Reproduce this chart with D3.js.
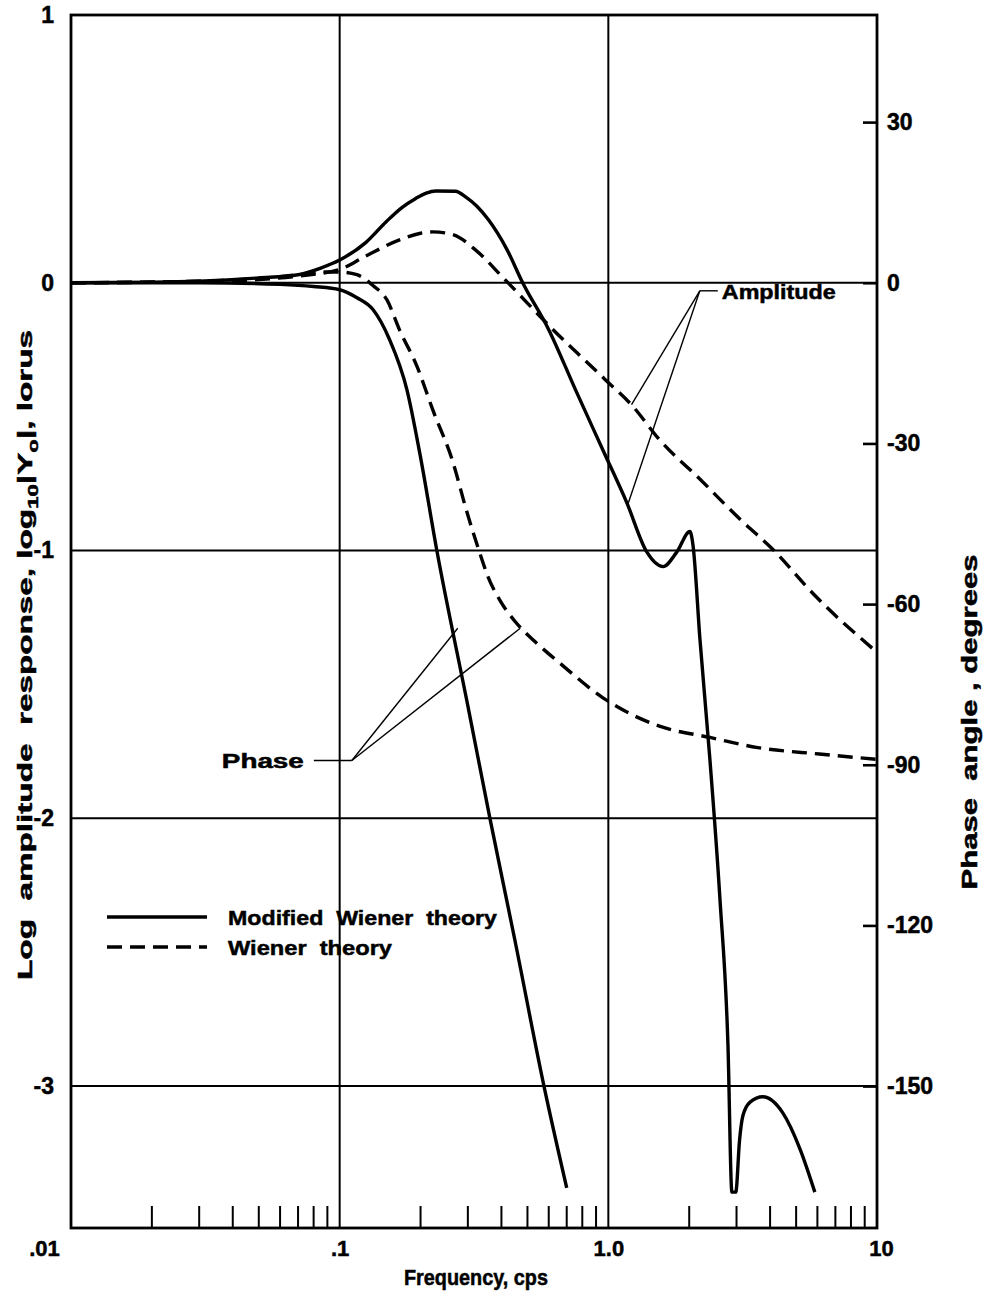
<!DOCTYPE html>
<html>
<head>
<meta charset="utf-8">
<title>Wiener theory frequency response</title>
<script src="https://cdn.jsdelivr.net/npm/d3@7/dist/d3.min.js"></script>
<style>
body { margin: 0; background: #fff; }
text { font-family: "Liberation Sans", "DejaVu Sans", sans-serif; font-weight: bold; fill: #000; stroke: #000; stroke-width: 0.5; }
.grid { stroke: #000; stroke-width: 2; }
.frame { fill: none; stroke: #000; stroke-width: 2.8; }
.curve { fill: none; stroke: #000; stroke-width: 3.4; }
.dash { stroke-dasharray: 15, 8; }
.leader { stroke: #000; stroke-width: 1.4; fill: none; }
</style>
</head>
<body>
<svg></svg>
<script>
// amplitude, modified Wiener theory (log10 |Y0|)
var ampModFreq = [0.01, 0.02, 0.03, 0.05, 0.07, 0.085, 0.1, 0.125, 0.149, 0.17, 0.192, 0.21, 0.228, 0.27, 0.295, 0.325, 0.358, 0.42, 0.48, 0.6, 0.755, 0.96, 1.17, 1.39, 1.6, 1.8, 2.012, 2.065, 2.193, 2.388, 2.603, 2.787, 2.884, 2.98, 3.08, 3.17, 3.37, 3.76, 4.46, 5.17, 5.87];
var ampMod     = [0, 0.002, 0.006, 0.018, 0.03, 0.055, 0.085, 0.15, 0.228, 0.28, 0.315, 0.335, 0.343, 0.342, 0.32, 0.285, 0.235, 0.123, 0, -0.175, -0.4, -0.63, -0.82, -1.005, -1.06, -1.005, -0.929, -0.978, -1.332, -1.78, -2.302, -2.843, -3.396, -3.396, -3.2, -3.11, -3.06, -3.04, -3.1, -3.235, -3.396];

// amplitude, Wiener theory
var ampWienFreq = [0.01, 0.02, 0.03, 0.05, 0.07, 0.1, 0.125, 0.167, 0.2, 0.222, 0.264, 0.32, 0.405, 0.43, 0.607, 0.97, 1.23, 1.55, 2.2, 3.1, 4.1, 5.9, 10];
var ampWien     = [0, 0.002, 0.005, 0.012, 0.025, 0.05, 0.1, 0.16, 0.185, 0.19, 0.18, 0.123, 0.02, -0.007, -0.164, -0.36, -0.46, -0.586, -0.735, -0.884, -0.996, -1.17, -1.38];

// phase, modified Wiener theory (degrees)
var phaseModFreq = [0.01, 0.03, 0.06, 0.08, 0.1, 0.116, 0.133, 0.153, 0.178, 0.199, 0.23, 0.3, 0.3625, 0.45, 0.576, 0.7];
var phaseMod     = [0, 0, -0.3, -0.7, -1.3, -2.8, -5, -10.5, -20, -32, -50, -79, -100, -123, -150, -169];

// phase, Wiener theory (degrees)
var phaseWienFreq = [0.01, 0.03, 0.05, 0.07, 0.085, 0.1, 0.116, 0.133, 0.15, 0.167, 0.194, 0.222, 0.264, 0.296, 0.33, 0.356, 0.395, 0.449, 0.533, 0.659, 0.955, 1.55, 2.39, 3.6, 6.1, 10];
var phaseWien     = [0, 0.3, 0.8, 1.5, 2, 2, 1.5, -0.5, -3.2, -8.8, -15.6, -23.7, -33.5, -42.4, -50, -54.8, -59.3, -63.2, -67, -71, -77.5, -82.8, -84.9, -86.8, -88, -89];

// axes
var xTicks = [0.01, 0.1, 1, 10];
var xTickLabels = [".01", ".1", "1.0", "10"];
var xMinor = [2, 3, 4, 5, 6, 7, 8, 9];
var ampTicks = [1, 0, -1, -2, -3];
var phaseTicks = [30, 0, -30, -60, -90, -120, -150];
var degPerUnit = 50;

var width = 983, height = 1296;
var margin = {left: 71, right: 106, top: 15, bottom: 68};

var svg = d3.select("svg").attr("width", width).attr("height", height);

var x = d3.scaleLog().domain([0.01, 10]).range([margin.left, width - margin.right]);
var y = d3.scaleLinear().domain([1, -3.53]).range([margin.top, height - margin.bottom]);
var yPhase = d3.scaleLinear().domain([1 * degPerUnit, -3.53 * degPerUnit]).range(y.range());

var x0 = x.range()[0], x1 = x.range()[1], y0 = y.range()[0], y1 = y.range()[1];

// grid lines
svg.selectAll(".hgrid").data([0, -1, -2, -3]).enter().append("line")
  .attr("class", "grid")
  .attr("x1", x0).attr("x2", x1)
  .attr("y1", function(d){ return y(d); }).attr("y2", function(d){ return y(d); });
svg.selectAll(".vgrid").data([0.1, 1]).enter().append("line")
  .attr("class", "grid")
  .attr("x1", function(d){ return x(d); }).attr("x2", function(d){ return x(d); })
  .attr("y1", y0).attr("y2", y1);

// minor ticks on the frequency axis
var minor = [];
[0.01, 0.1, 1].forEach(function(dec){ xMinor.forEach(function(m){ minor.push(dec * m); }); });
svg.selectAll(".minor").data(minor).enter().append("line")
  .attr("class", "grid")
  .attr("x1", function(d){ return x(d); }).attr("x2", function(d){ return x(d); })
  .attr("y1", y1).attr("y2", y1 - 22);

svg.append("rect").attr("class", "frame")
  .attr("x", x0).attr("y", y0).attr("width", x1 - x0).attr("height", y1 - y0);

function styleText(sel, size){
  sel.attr("font-size", size).attr("fill", "#000")
    .style("font-family", "Liberation Sans, sans-serif").style("font-weight", "bold");
}

// bottom axis labels
var xAxis = svg.append("g").attr("transform", "translate(0," + y1 + ")")
  .call(d3.axisBottom(x).tickValues(xTicks).tickSize(0).tickPadding(12)
    .tickFormat(function(d, i){ return xTickLabels[i]; }));
xAxis.select(".domain").remove();
styleText(xAxis.selectAll("text"), 22);
xAxis.selectAll("text").filter(function(d){ return d === 0.01; }).attr("dx", -27);
xAxis.selectAll("text").filter(function(d){ return d === 10; }).attr("dx", 4);

// left axis labels
var yAxis = svg.append("g").attr("transform", "translate(" + x0 + ",0)")
  .call(d3.axisLeft(y).tickValues(ampTicks).tickSize(0).tickPadding(17)
    .tickFormat(function(d){ return d < 0 ? "-" + Math.abs(d) : d; }));
yAxis.select(".domain").remove();
styleText(yAxis.selectAll("text"), 23);

// right axis
var rAxis = svg.append("g").attr("transform", "translate(" + x1 + ",0)")
  .call(d3.axisRight(yPhase).tickValues(phaseTicks).tickSize(-14).tickPadding(24)
    .tickFormat(function(d){ return d < 0 ? "-" + Math.abs(d) : d; }));
rAxis.select(".domain").remove();
rAxis.selectAll("line").attr("stroke", "#000").attr("stroke-width", 2.6);
styleText(rAxis.selectAll("text"), 23);
rAxis.selectAll("text").attr("dx", -14);

// curves
var ampLine = d3.line().curve(d3.curveMonotoneX)
  .x(function(d){ return x(d[0]); }).y(function(d){ return y(d[1]); });
var phaseLine = d3.line().curve(d3.curveMonotoneX)
  .x(function(d){ return x(d[0]); }).y(function(d){ return yPhase(d[1]); });

svg.append("path").attr("class", "curve")
  .attr("d", ampLine(d3.zip(ampModFreq, ampMod)));
svg.append("path").attr("class", "curve dash")
  .attr("d", ampLine(d3.zip(ampWienFreq, ampWien)));
svg.append("path").attr("class", "curve")
  .attr("d", phaseLine(d3.zip(phaseModFreq, phaseMod)));
svg.append("path").attr("class", "curve dash")
  .attr("d", phaseLine(d3.zip(phaseWienFreq, phaseWien)));

// annotations (data coordinates)
var ampJoint = [2.19, -0.03];
[[1.22, -0.455], [1.18, -0.83]].forEach(function(p){
  svg.append("line").attr("class", "leader")
    .attr("x1", x(ampJoint[0])).attr("y1", y(ampJoint[1]))
    .attr("x2", x(p[0])).attr("y2", y(p[1]));
});
svg.append("line").attr("class", "leader")
  .attr("x1", x(ampJoint[0])).attr("y1", y(ampJoint[1]))
  .attr("x2", x(ampJoint[0]) + 18).attr("y2", y(ampJoint[1]));
svg.append("text").attr("x", x(ampJoint[0]) + 22).attr("y", y(ampJoint[1]) + 8)
  .attr("font-size", 20).attr("textLength", 114).attr("lengthAdjust", "spacingAndGlyphs")
  .text("Amplitude");

var phJoint = [0.111, -1.784];
[[0.275, -1.29], [0.47, -1.29]].forEach(function(p){
  svg.append("line").attr("class", "leader")
    .attr("x1", x(phJoint[0])).attr("y1", y(phJoint[1]))
    .attr("x2", x(p[0])).attr("y2", y(p[1]));
});
svg.append("line").attr("class", "leader")
  .attr("x1", x(phJoint[0])).attr("y1", y(phJoint[1]))
  .attr("x2", x(phJoint[0]) - 38).attr("y2", y(phJoint[1]));
svg.append("text").attr("x", x(phJoint[0]) - 130).attr("y", y(phJoint[1]) + 8)
  .attr("font-size", 20).attr("textLength", 82).attr("lengthAdjust", "spacingAndGlyphs")
  .text("Phase");

// legend
var legendNames = ["Modified  Wiener  theory", "Wiener  theory"];
var legendDash = ["", "dash"];
var legendLen = [269, 164];
legendNames.forEach(function(name, i){
  var ly = 917 + i * 30;
  svg.append("line").attr("class", "curve " + legendDash[i])
    .attr("x1", 107).attr("x2", 207).attr("y1", ly).attr("y2", ly);
  svg.append("text").attr("x", 228).attr("y", ly + 8).attr("font-size", 21)
    .attr("xml:space", "preserve").style("white-space", "pre")
    .attr("textLength", legendLen[i]).attr("lengthAdjust", "spacingAndGlyphs").text(name);
});

// axis titles
svg.append("text").attr("x", 476).attr("y", 1285)
  .attr("text-anchor", "middle").attr("font-size", 22)
  .attr("textLength", 144).attr("lengthAdjust", "spacingAndGlyphs").text("Frequency, cps");

var lt = svg.append("text").attr("text-anchor", "middle").attr("font-size", 21)
  .attr("transform", "translate(32,655) rotate(-90)")
  .attr("textLength", 650).attr("lengthAdjust", "spacingAndGlyphs");
lt.append("tspan").text("Log  amplitude  response, log");
lt.append("tspan").attr("font-size", 14).attr("dy", 6).text("10");
lt.append("tspan").attr("dy", -6).text("|Y");
lt.append("tspan").attr("font-size", 14).attr("dy", 6).text("o");
lt.append("tspan").attr("dy", -6).text("|, lorus");
lt.style("white-space", "pre");

svg.append("text").attr("text-anchor", "middle").attr("font-size", 22)
  .attr("transform", "translate(977,722) rotate(-90)")
  .style("white-space", "pre")
  .attr("textLength", 335).attr("lengthAdjust", "spacingAndGlyphs")
  .text("Phase  angle , degrees");
</script>
</body>
</html>
